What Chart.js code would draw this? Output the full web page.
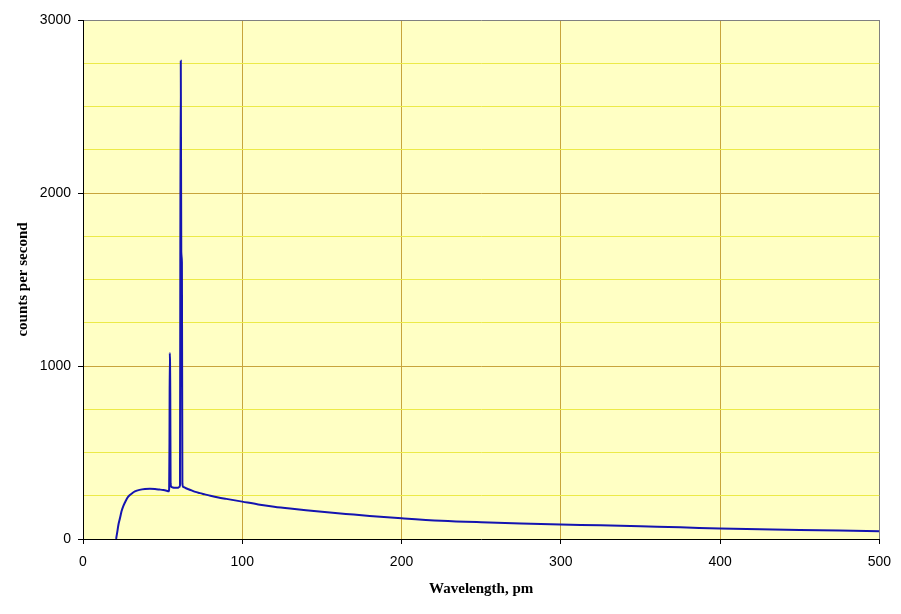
<!DOCTYPE html>
<html>
<head>
<meta charset="utf-8">
<script src="https://cdn.jsdelivr.net/npm/chart.js@4.4.1/dist/chart.umd.min.js"></script>
<style>
    body { margin: 0; background: #ffffff; }
    #wrap { width: 901px; height: 614px; position: relative; }
</style>
</head>
<body>
<div id="wrap"><canvas id="spectrum"></canvas></div>
<script>
// Wavelength (pm) and counts per second
const wavelengths = [
    20.8, 21.5, 22.3, 23.2, 24.2, 25.3, 26.8, 28.4, 30.5, 32.6,
    35.5, 38.9, 42, 45.2, 48, 50.4, 52.5, 53.8,
    54.1, 54.3, 54.5, 54.8, 55.0, 55.6, 57.5, 59.5, 60.4,
    60.9, 61.1, 61.4, 61.7, 62.1, 62.4, 63,
    65, 67, 70, 73.4, 76.5, 80, 85, 90, 100, 110, 120, 130, 140, 150,
    165, 180, 200, 225, 250, 275, 300, 325, 350, 375, 400, 425, 450, 475, 500
];
const counts = [
    0, 40, 85, 120, 160, 190, 220, 245, 262, 275,
    284, 289, 290, 289, 286, 283, 279, 276,
    290, 560, 1075, 845, 320, 300, 296, 296, 300,
    310, 1600, 2765, 1660, 1600, 320, 300,
    292, 285, 274, 265, 258, 250, 240, 232, 216, 200, 187, 176, 166, 157,
    145, 133, 120, 106, 97, 90, 84, 79, 73, 68, 60, 56, 52, 49, 45
];

const xTicks = [0, 100, 200, 300, 400, 500];
const yMajor = [0, 1000, 2000, 3000];

const colors = {
    plotBg: '#ffffc4',
    majorGrid: '#c8a43c',
    minorGrid: '#ecea48',
    frame: '#808080',
    line: '#1414b0'
};

const plotBackground = {
    id: 'plotBackground',
    beforeDraw(chart) {
        const {ctx, chartArea} = chart;
        ctx.save();
        ctx.fillStyle = colors.plotBg;
        ctx.fillRect(chartArea.left, chartArea.top, chartArea.right - chartArea.left, chartArea.bottom - chartArea.top);
        ctx.restore();
    }
};

const tickFont = { family: 'Liberation Sans', size: 14 };
const titleFont = { family: 'Liberation Serif', size: 15, weight: 'bold' };

new Chart(document.getElementById('spectrum').getContext('2d'), {
    type: 'line',
    data: {
        datasets: [{
            data: wavelengths.map((w, i) => ({ x: w, y: counts[i] })),
            borderColor: colors.line,
            borderWidth: 2,
            pointRadius: 0,
            fill: false,
            cubicInterpolationMode: 'monotone'
        }]
    },
    options: {
        responsive: true,
        maintainAspectRatio: false,
        animation: false,
        layout: { padding: { top: 20, right: 21, left: 0, bottom: 0 } },
        plugins: {
            legend: { display: false },
            tooltip: { enabled: false }
        },
        scales: {
            x: {
                type: 'linear',
                min: 0,
                max: 500,
                afterFit: (scale) => { scale.height = 75; },
                afterBuildTicks: (scale) => { scale.ticks = xTicks.map(v => ({ value: v })); },
                grid: {
                    color: (ctx) => {
                        const v = ctx.tick ? ctx.tick.value : null;
                        if (v === 0) return 'rgba(0,0,0,0)';
                        if (v === 500) return colors.frame;
                        return colors.majorGrid;
                    },
                    tickColor: '#000000',
                    tickLength: 5,
                    lineWidth: 1
                },
                border: { color: '#000000', width: 1 },
                ticks: {
                    color: '#000000',
                    font: tickFont,
                    padding: 10,
                    maxRotation: 0,
                    autoSkip: false
                },
                title: {
                    display: true,
                    text: 'Wavelength, pm',
                    color: '#000000',
                    font: titleFont,
                    padding: { top: 0, bottom: 16 }
                }
            },
            y: {
                min: 0,
                max: 3000,
                afterFit: (scale) => { scale.width = 83; },
                ticks: {
                    stepSize: 250,
                    autoSkip: false,
                    color: '#000000',
                    font: tickFont,
                    padding: 7,
                    callback: (v) => (yMajor.includes(v) ? v : '')
                },
                grid: {
                    color: (ctx) => {
                        const v = ctx.tick ? ctx.tick.value : null;
                        if (v === 0) return 'rgba(0,0,0,0)';
                        if (v === 3000) return colors.frame;
                        return yMajor.includes(v) ? colors.majorGrid : colors.minorGrid;
                    },
                    tickColor: (ctx) => (ctx.tick && yMajor.includes(ctx.tick.value) ? '#000000' : 'rgba(0,0,0,0)'),
                    tickLength: 5,
                    lineWidth: 1
                },
                border: { color: '#000000', width: 1 },
                title: {
                    display: true,
                    text: 'counts per second',
                    color: '#000000',
                    font: titleFont,
                    padding: { top: 14, bottom: 0 }
                }
            }
        }
    },
    plugins: [plotBackground]
});
</script>
</body>
</html>
